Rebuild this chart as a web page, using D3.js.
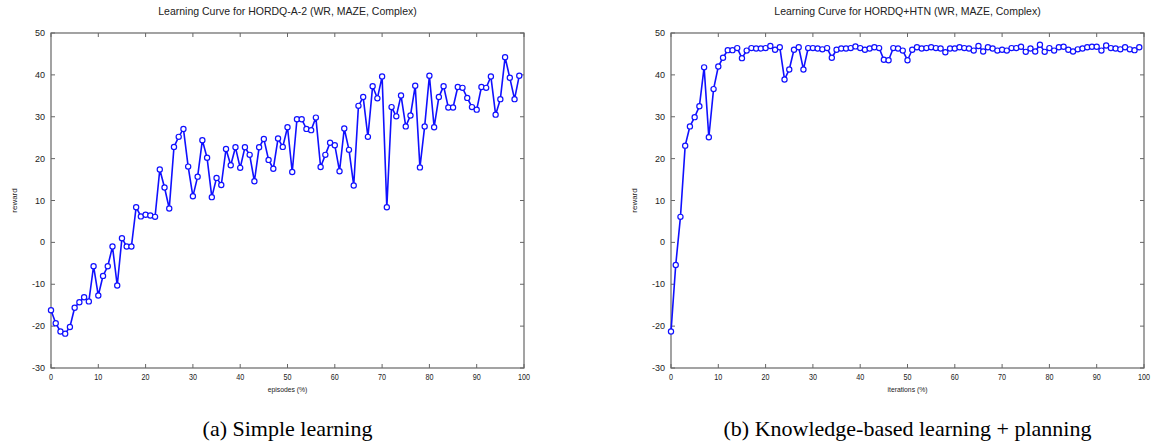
<!DOCTYPE html>
<html>
<head>
<meta charset="utf-8">
<script src="https://cdn.jsdelivr.net/npm/d3@7"></script>
<style>
    body { margin: 0; background: #fff; }
    svg { display: block; }
    .title, .tick-label, .axis-label { font-family: "Liberation Sans", Arial, sans-serif; fill: #222; }
    .caption { font-family: "Liberation Serif", "Times New Roman", serif; fill: #000; }
</style>
</head>
<body>
<div id="chart"></div>
<script>
// reward per episode / iteration (%)
var xTicks = [0, 10, 20, 30, 40, 50, 60, 70, 80, 90, 100];
var yTicks = [-30, -20, -10, 0, 10, 20, 30, 40, 50];

var simpleReward = [
    -16.2, -19.3, -21.3, -21.8, -20.2, -15.6, -14.3, -13.1, -14.1, -5.7,
    -12.7, -8.0, -5.7, -1.0, -10.3, 1.0, -1.0, -1.0, 8.4, 6.2,
    6.6, 6.4, 6.1, 17.4, 13.1, 8.1, 22.8, 25.2, 27.1, 18.1,
    11.0, 15.7, 24.4, 20.2, 10.8, 15.4, 13.7, 22.3, 18.4, 22.7,
    17.8, 22.7, 20.9, 14.6, 22.7, 24.7, 19.7, 17.6, 24.8, 22.8,
    27.5, 16.8, 29.4, 29.4, 27.1, 26.8, 29.8, 18.0, 20.9, 23.8,
    23.2, 17.0, 27.2, 22.1, 13.6, 32.6, 34.7, 25.2, 37.3, 34.4,
    39.6, 8.4, 32.3, 30.1, 35.1, 27.7, 30.3, 37.4, 17.9, 27.7,
    39.8, 27.5, 34.7, 37.3, 32.2, 32.2, 37.1, 36.9, 34.5, 32.3,
    31.7, 37.1, 36.9, 39.6, 30.5, 34.2, 44.2, 39.3, 34.2, 39.8
];

var plannedReward = [
    -21.3, -5.4, 6.1, 23.1, 27.7, 29.9, 32.5, 41.8, 25.1, 36.6,
    42.0, 44.1, 45.9, 45.9, 46.4, 44.0, 45.8, 46.4, 46.3, 46.3,
    46.4, 46.9, 46.0, 46.6, 38.9, 41.3, 46.0, 46.6, 41.3, 46.4,
    46.4, 46.3, 46.1, 46.4, 44.1, 46.0, 46.3, 46.3, 46.4, 46.8,
    46.4, 46.0, 46.3, 46.6, 46.4, 43.6, 43.5, 46.4, 46.3, 45.8,
    43.5, 46.0, 46.6, 46.3, 46.4, 46.6, 46.4, 46.3, 45.4, 46.3,
    46.3, 46.6, 46.4, 46.3, 45.8, 46.9, 45.6, 46.6, 46.3, 45.8,
    46.0, 45.8, 46.4, 46.4, 46.7, 45.5, 46.3, 45.6, 47.2, 45.5,
    46.4, 45.8, 46.6, 46.7, 46.0, 45.6, 46.1, 46.3, 46.6, 46.7,
    46.7, 45.8, 47.0, 46.4, 46.3, 46.1, 46.6, 46.1, 45.9, 46.6
];

var panels = [
    { title: 'Learning Curve for HORDQ-A-2 (WR, MAZE, Complex)', xlabel: 'episodes (%)',
      caption: '(a) Simple learning', values: simpleReward, left: 51 },
    { title: 'Learning Curve for HORDQ+HTN (WR, MAZE, Complex)', xlabel: 'iterations (%)',
      caption: '(b) Knowledge-based learning + planning', values: plannedReward, left: 671 }
];

var W = 1155, H = 445;
var plotW = 473, plotTop = 33, plotH = 335;
var tickLen = 4;
var axisColor = '#666';
var lineColor = '#1010ff';

var svg = d3.select('#chart').append('svg')
    .attr('width', W)
    .attr('height', H);

panels.forEach(function(p) {
    let x = d3.scaleLinear().domain([0, 100]).range([p.left, p.left + plotW]);
    let y = d3.scaleLinear().domain([-30, 50]).range([plotTop + plotH, plotTop]);
    let g = svg.append('g');
    let cx = p.left + plotW / 2;

    g.append('text')
        .attr('class', 'title')
        .attr('x', cx)
        .attr('y', 15)
        .attr('text-anchor', 'middle')
        .style('font-size', '10.5px')
        .text(p.title);

    // box
    g.append('rect')
        .attr('x', p.left)
        .attr('y', plotTop)
        .attr('width', plotW)
        .attr('height', plotH)
        .attr('fill', 'none')
        .attr('stroke', axisColor)
        .attr('stroke-width', 1.2);

    // inward ticks, all four sides
    xTicks.forEach(function(t) {
        g.append('line')
            .attr('x1', x(t)).attr('x2', x(t))
            .attr('y1', plotTop).attr('y2', plotTop + tickLen)
            .attr('stroke', axisColor);
        g.append('line')
            .attr('x1', x(t)).attr('x2', x(t))
            .attr('y1', plotTop + plotH).attr('y2', plotTop + plotH - tickLen)
            .attr('stroke', axisColor);
        g.append('text')
            .attr('class', 'tick-label')
            .attr('x', x(t))
            .attr('y', plotTop + plotH + 12)
            .attr('text-anchor', 'middle')
            .style('font-size', '9px')
            .attr('transform', 'translate(' + x(t) + ',0) scale(0.8,1) translate(' + (-x(t)) + ',0)')
            .text(t);
    });

    yTicks.forEach(function(t) {
        g.append('line')
            .attr('x1', p.left).attr('x2', p.left + tickLen)
            .attr('y1', y(t)).attr('y2', y(t))
            .attr('stroke', axisColor);
        g.append('line')
            .attr('x1', p.left + plotW).attr('x2', p.left + plotW - tickLen)
            .attr('y1', y(t)).attr('y2', y(t))
            .attr('stroke', axisColor);
        g.append('text')
            .attr('class', 'tick-label')
            .attr('x', p.left - 6)
            .attr('y', y(t) + 3)
            .attr('text-anchor', 'end')
            .style('font-size', '9px')
            .text(t);
    });

    g.append('text')
        .attr('class', 'axis-label')
        .attr('x', cx)
        .attr('y', plotTop + plotH + 24)
        .attr('text-anchor', 'middle')
        .style('font-size', '8px')
        .attr('transform', 'translate(' + cx + ',0) scale(0.85,1) translate(' + (-cx) + ',0)')
        .text(p.xlabel);

    g.append('text')
        .attr('class', 'axis-label')
        .attr('transform', 'translate(' + (p.left - 34) + ',' + (plotTop + plotH / 2) + ') rotate(-90)')
        .attr('text-anchor', 'middle')
        .style('font-size', '8px')
        .text('reward');

    let line = d3.line()
        .x(function(d, i) { return x(i); })
        .y(function(d) { return y(d); });

    g.append('path')
        .datum(p.values)
        .attr('d', line)
        .attr('fill', 'none')
        .attr('stroke', lineColor)
        .attr('stroke-width', 1.6);

    g.selectAll('.pt')
        .data(p.values)
        .enter().append('circle')
        .attr('class', 'pt')
        .attr('cx', function(d, i) { return x(i); })
        .attr('cy', function(d) { return y(d); })
        .attr('r', 2.6)
        .attr('fill', '#fff')
        .attr('stroke', lineColor)
        .attr('stroke-width', 1.2);

    g.append('text')
        .attr('class', 'caption')
        .attr('x', cx)
        .attr('y', 436)
        .attr('text-anchor', 'middle')
        .style('font-size', '22px')
        .text(p.caption);
});
</script>
</body>
</html>
